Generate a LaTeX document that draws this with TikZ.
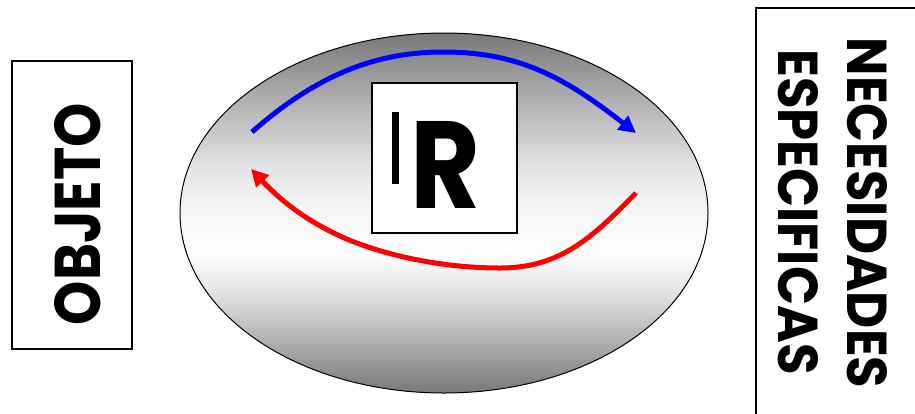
\documentclass[tikz,border=0pt]{standalone}
\usepackage{fontspec}
\setmainfont{Poppins}
\usepackage{graphicx}
\usetikzlibrary{arrows.meta}
\definecolor{shgray}{gray}{0.47}
\definecolor{sa}{gray}{0.69}
\definecolor{sb}{gray}{0.78}
\definecolor{sc}{gray}{0.88}
\definecolor{sd}{gray}{0.95}
\definecolor{se}{gray}{0.86}
\pgfdeclareverticalshading{ellshade}{530bp}{color(0bp)=(shgray); color(53bp)=(sa); color(93bp)=(se); color(138bp)=(white); color(193bp)=(sd); color(230bp)=(sc); color(263bp)=(sb); color(293bp)=(sa); color(360bp)=(shgray)}
\tikzset{
  frame/.style={draw=black, line width=1.2pt, fill=white},
  vlabel/.style={inner sep=0pt},
  bluearrow/.style={draw=blue, line width=5pt, -{Triangle[length=17pt,width=17pt]}},
  redarrow/.style={draw=red, line width=5pt, -{Triangle[length=17pt,width=17pt]}},
}
\begin{document}
\begin{tikzpicture}[x=1pt,y=-1pt]
\useasboundingbox (0,0) rectangle (915,413);
\clip (0,0) rectangle (915,413);
% ellipse
\begin{scope}
\clip (444,213) ellipse [x radius=264, y radius=180];
\node[inner sep=0pt, outer sep=0pt] (shade) at (444,213) {\pgfuseshading{ellshade}};
\end{scope}
\draw[black, line width=1pt] (444,213) ellipse [x radius=264, y radius=180];
% left box
\node[frame, minimum width=120pt, minimum height=288pt, inner sep=0pt] (obj) at (72,205) {};
\node[vlabel, rotate=90] (objt) at (78,214) {\resizebox{222pt}{46pt}{\bfseries OBJETO}};
% right box
\draw[frame] (756,8) rectangle (940,440);
\node[vlabel, rotate=-90] (nec) at (867,213) {\resizebox{350pt}{40pt}{\bfseries NECESIDADES}};
\node[vlabel, rotate=-90] (esp) at (798,212) {\resizebox{325pt}{40pt}{\bfseries ESPECIFICAS}};
% R box
\node[frame, minimum width=145pt, minimum height=150pt, inner sep=0pt] (rbox) at (444.5,158) {};
\fill (392,112) rectangle (399,184);
\node[vlabel, anchor=south west] (rr) at (410,209) {\resizebox{70pt}{87pt}{\bfseries R}};
% arrows
\coordinate (b1) at (252,132);
\coordinate (b2) at (443,52);
\coordinate (b3) at (636,133);
\draw[bluearrow] (b1) .. controls (320,72) and (380,52) .. (b2) .. controls (520,52) and (565,78) .. (b3);
\coordinate (r1) at (636,193);
\coordinate (r2) at (500,268);
\coordinate (r3) at (340,236);
\coordinate (r4) at (251,169);
\draw[redarrow] (r1) .. controls (592,238) and (560,268) .. (r2) .. controls (430,268) and (370,250) .. (r3) .. controls (310,222) and (285,205) .. (r4);
\end{tikzpicture}
\end{document}
